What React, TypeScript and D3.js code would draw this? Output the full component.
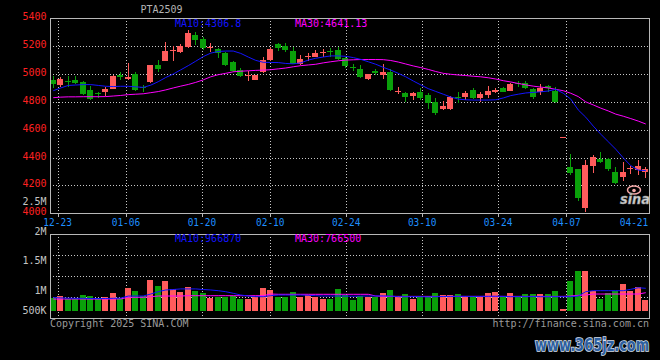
import React from "react";
import * as d3 from "d3";

// ---------------- data ----------------
const title = "PTA2509";
const dates = [
  "12-20","12-23","12-24","12-25","12-26","12-27","12-30","12-31",
  "01-02","01-03","01-06","01-07","01-08","01-09","01-10","01-13","01-14","01-15","01-16","01-17","01-20","01-21","01-22","01-23","01-24","01-27",
  "02-05","02-06","02-07","02-10","02-11","02-12","02-13","02-14","02-17","02-18","02-19","02-20","02-21","02-24","02-25","02-26","02-27","02-28",
  "03-03","03-04","03-05","03-06","03-07","03-10","03-11","03-12","03-13","03-14","03-17","03-18","03-19","03-20","03-21","03-24","03-25","03-26","03-27","03-28","03-31",
  "04-01","04-02","04-03","04-04","04-07","04-08","04-09","04-10","04-11","04-14","04-15","04-16","04-17","04-18","04-21",
];
// stray record that the date axis ignores
const gapDates = ["04-04"];

const opens = [4955,4924,4947,4955,4943,4888,4862,4871,4895,4996,4963,5003,4910,4943,5062,5094,5163,5160,5195,5278,
  5250,5188,5180,5150,5088,5030,4990,4960,5015,5100,5212,5203,5165,5072,5120,5125,5153,5162,5172,5112,
  5052,5036,4964,5022,4995,5018,4875,4866,4845,4873,4846,4802,4750,4750,4835,4833,4885,4830,4850,4874,
  4897,4880,4938,4938,4890,4874,4914,4880,4545,4335,4318,4036,4342,4390,4390,4300,4263,4316,4311,4293];
const highs = [4986,4979,4984,4984,4950,4912,4870,4905,4990,5015,5080,5012,4924,5068,5100,5230,5200,5218,5314,5300,
  5268,5220,5190,5155,5095,5040,5025,4995,5120,5195,5225,5224,5195,5135,5150,5175,5180,5184,5195,5125,
  5070,5065,5002,5035,5070,5035,4904,4873,4873,4897,4862,4825,4806,4840,4868,4878,4897,4868,4914,4902,
  4909,4938,4950,4950,4902,4926,4921,4909,4545,4426,4320,4383,4415,4442,4395,4335,4371,4340,4383,4335];
const lows = [4902,4907,4910,4931,4850,4815,4825,4845,4890,4955,4955,4878,4871,4935,5012,5090,5090,5150,5190,5208,
  5172,5160,5118,5060,5012,4975,4952,4955,5008,5090,5165,5160,5070,5068,5095,5120,5125,5125,5100,5040,
  5022,4970,4955,4995,4965,4878,4854,4802,4813,4813,4746,4705,4742,4745,4789,4813,4820,4802,4825,4862,
  4868,4878,4909,4892,4818,4850,4873,4795,4545,4275,4090,4012,4288,4358,4303,4210,4234,4280,4275,4256];
const closes = [4931,4962,4940,4938,4860,4818,4857,4893,4984,4978,4978,4885,4903,5063,5036,5162,5170,5198,5294,5245,
  5185,5192,5150,5065,5025,4985,4995,4992,5098,5178,5186,5172,5075,5110,5127,5153,5158,5156,5108,5060,
  5046,4978,5000,5010,5018,4885,4880,4833,4866,4826,4790,4718,4773,4837,4828,4866,4826,4854,4880,4888,
  4873,4928,4926,4897,4838,4902,4902,4797,4545,4288,4108,4347,4407,4366,4318,4220,4294,4325,4342,4315];
const ma10 = [4880,4900,4918,4921,4924,4924,4918,4912,4910,4912,4912,4908,4904,4920,4945,4975,5000,5030,5060,5092,
  5125,5150,5162,5165,5165,5148,5122,5098,5084,5083,5082,5076,5073,5080,5100,5113,5122,5130,5130,5127,
  5118,5105,5088,5070,5048,5028,5005,4980,4950,4922,4895,4875,4855,4835,4820,4815,4813,4813,4813,4815,
  4828,4845,4855,4864,4868,4872,4878,4890,4862,4820,4742,4690,4626,4568,4514,4460,4398,4342,4310,4306.8];
const ma30 = [4830,4834,4836,4836,4837,4837,4837,4838,4842,4846,4852,4855,4858,4866,4874,4886,4900,4913,4925,4940,
  4958,4980,4995,5005,5016,5020,5023,5026,5028,5031,5037,5043,5052,5060,5065,5070,5080,5088,5095,5100,
  5102,5104,5104,5104,5103,5097,5086,5072,5058,5046,5033,5018,5005,4998,4993,4989,4984,4980,4973,4964,
  4952,4943,4932,4922,4913,4906,4900,4890,4880,4862,4838,4800,4778,4755,4735,4712,4697,4680,4662,4641.13];
const volumes = [810000,867000,785000,785000,892000,875000,785000,835000,950000,810000,
  1050000,1000000,867000,1186000,1084000,1160000,1030000,975000,1067000,1000000,
  950000,825000,850000,850000,867000,785000,785000,850000,1050000,1012000,
  850000,850000,975000,835000,892000,850000,792000,799000,1030000,892000,
  767000,867000,842000,842000,950000,1012000,867000,917000,792000,850000,
  867000,950000,892000,892000,917000,867000,875000,875000,950000,975000,
  842000,950000,842000,917000,917000,917000,917000,1000000,542000,1160000,
  1330000,1330000,1000000,792000,950000,1000000,1110000,1000000,1067000,767000];
const volMa10 = [830000,820000,815000,810000,810000,805000,805000,805000,810000,815000,
  867000,867000,867000,917000,975000,1012000,1020000,1030000,1030000,1030000,
  1020000,1012000,1000000,975000,935000,892000,867000,850000,850000,875000,
  892000,892000,892000,892000,885000,875000,867000,867000,867000,865000,
  862000,866000,867000,869000,870000,867000,850000,848000,852000,850000,
  846000,850000,855000,858000,860000,858000,857000,858000,860000,862000,
  858000,850000,852000,850000,853000,850000,848000,850000,850000,850000,
  867000,975000,1000000,1000000,1000000,1000000,1000000,1023000,1050000,1040000];
const volMa30 = [790000,792000,792000,793000,792000,790000,792000,792000,793000,795000,
  835000,835000,835000,850000,867000,867000,867000,867000,875000,875000,
  875000,875000,875000,875000,875000,875000,875000,875000,875000,917000,
  910000,910000,910000,910000,910000,910000,910000,910000,910000,910000,
  910000,910000,910000,867000,858000,858000,858000,858000,858000,858000,
  858000,858000,858000,858000,858000,858000,858000,858000,858000,858000,
  858000,858000,858000,858000,858000,858000,858000,858000,858000,867000,
  885000,892000,917000,917000,917000,917000,917000,917000,917000,950000];
const volMa10Legend = 966870;
const volMa30Legend = 766500;

const priceTicks = [4000, 4200, 4400, 4600, 4800, 5000, 5200, 5400];
const volTicks = [500000, 1000000, 1500000, 2000000, 2500000];
const volTickLabels = ["500K", "1M", "1.5M", "2M", "2.5M"];
const dateTicks = ["12-23", "01-06", "01-20", "02-10", "02-24", "03-10", "03-24", "04-07", "04-21"];

// ---------------- layout ----------------
const W = 660, H = 360;
const L = 50, R = 650;
const mT = 18.3, mB = 213.3;
const vT = 234.3, vB = 318.3;

const UP = "#ff5c5c";
const DOWN = "#0aa00a";
const GRID = "#c8c8c8";
const FRAME = "#b8b8b8";
const MONO = "'DejaVu Sans Mono', 'Liberation Mono', monospace";

export default function App() {
  const xC = d3.scaleBand<string>().domain(dates).range([49.5, 649.5]).paddingInner(0.2).paddingOuter(0.1);
  const xG = d3.scaleBand<string>().domain(dates.filter((d) => !gapDates.includes(d))).range([L, R]);
  const y = d3.scaleLinear().domain([4000, 5400]).range([mB, mT]);
  const yv = d3.scaleLinear().domain([500000, 1000000, 2000000]).range([310.7, 290.7, 231]);
  const bw = xC.bandwidth();
  const cx = (d: string) => (xC(d) as number) + bw / 2;

  const priceLine = (arr: number[]) =>
    d3.line<number>().x((_, i) => cx(dates[i])).y((v) => y(v))(arr) || "";
  const volLine = (arr: number[]) =>
    d3.line<number>().x((_, i) => cx(dates[i])).y((v) => yv(v))(arr) || "";

  const gridX = dateTicks.slice(0, -1).map((d) => Math.round(xG(d) as number) + 0.5);
  const volGridY = [1, 2, 3].map((k) => Math.round(vT + ((vB - vT) * k) / 4) + 0.5);

  return (
    <div style={{ position: "absolute", left: 0, top: 0, width: W, height: H }}>
      <svg width={W} height={H} style={{ display: "block", background: "#000" }}>
        <rect x={0} y={0} width={W} height={H} fill="#000" />
        {/* title */}
        <text x={161.5} y={9.7} fill="#b4b4b4" fontFamily={MONO} fontSize={10} textAnchor="middle" dominantBaseline="central">{title}</text>

        {/* price grid */}
        <g stroke={GRID} strokeWidth={1} strokeDasharray="1 2" shapeRendering="crispEdges">
          {priceTicks.slice(1, -1).map((t) => (
            <line key={t} x1={L} x2={R} y1={Math.round(y(t)) + 0.5} y2={Math.round(y(t)) + 0.5} />
          ))}
          {gridX.map((x, i) => (
            <line key={i} x1={x} x2={x} y1={mT} y2={mB} />
          ))}
        </g>
        {/* volume grid */}
        <g stroke={GRID} strokeWidth={1} strokeDasharray="1 2" shapeRendering="crispEdges">
          {volGridY.map((yy, i) => (
            <line key={i} x1={L} x2={R} y1={yy} y2={yy} />
          ))}
          {gridX.map((x, i) => (
            <line key={i} x1={x} x2={x} y1={vT} y2={vB} />
          ))}
        </g>

        {/* candles */}
        <g shapeRendering="crispEdges">
          {dates.map((d, i) => {
            const up = closes[i] >= opens[i];
            const col = up ? UP : DOWN;
            const c = Math.floor(cx(d)) + 0.5;
            const top = y(Math.max(opens[i], closes[i]));
            const bot = y(Math.min(opens[i], closes[i]));
            return (
              <g key={d}>
                <line x1={c} x2={c} y1={y(highs[i])} y2={y(lows[i])} stroke={col} strokeWidth={1} />
                <rect x={c - 3.5} y={top} width={6} height={Math.max(1, bot - top)} fill={col} />
              </g>
            );
          })}
        </g>
        {/* price MAs */}
        <path d={priceLine(ma30)} fill="none" stroke="#ff00ff" strokeWidth={1} />
        <path d={priceLine(ma10)} fill="none" stroke="#1414ff" strokeWidth={1} />

        {/* volume bars */}
        <g shapeRendering="crispEdges">
          {dates.map((d, i) => {
            const up = closes[i] >= opens[i];
            const c = Math.floor(cx(d)) + 0.5;
            return (
              <rect key={d} x={c - 3.5} y={yv(volumes[i])} width={6}
                height={Math.max(1, yv(500000) - yv(volumes[i]))} fill={up ? UP : DOWN} />
            );
          })}
        </g>
        <path d={volLine(volMa30)} fill="none" stroke="#ff00ff" strokeWidth={1} />
        <path d={volLine(volMa10)} fill="none" stroke="#1414ff" strokeWidth={1} />

        {/* frames */}
        <g fill="none" stroke={FRAME} strokeWidth={1} shapeRendering="crispEdges">
          <rect x={L + 0.5} y={18.5} width={R - L - 1} height={mB - 18.5} />
          <rect x={L + 0.5} y={234.5} width={R - L - 1} height={vB - 234.5} />
          <line x1={L} x2={R} y1={213.5} y2={213.5} strokeWidth={1.5} />
          {gridX.map((x, i) => (
            <line key={i} x1={x} x2={x} y1={214} y2={217} />
          ))}
        </g>

        {/* price axis labels */}
        {priceTicks.map((t) => (
          <text key={t} x={46.5} y={y(t) - 1.5} fill="#ff2020" fontFamily={MONO} fontSize={10}
            textAnchor="end" dominantBaseline="central">{t}</text>
        ))}
        {/* volume axis labels */}
        {volTicks.map((t, i) => (
          <text key={t} x={46.5} y={yv(t)} fill="#c4c4c4" fontFamily={MONO} fontSize={10}
            textAnchor="end" dominantBaseline="central">{volTickLabels[i]}</text>
        ))}
        {/* date labels */}
        {dateTicks.map((d) => {
          const x = Math.min(xG(d) as number, R - 16);
          return (
            <text key={d} x={x} y={221.7} fill="#1e8fff" fontFamily={MONO} fontSize={10.5}
              textAnchor="middle" dominantBaseline="central" textLength={28.5} lengthAdjust="spacingAndGlyphs">{d}</text>
          );
        })}

        {/* legends */}
        <text x={175} y={23.3} fill="#1414ff" fontFamily={MONO} fontSize={10} dominantBaseline="central">
          {"MA10:" + ma10[ma10.length - 1].toFixed(1)}
        </text>
        <text x={295} y={23.3} fill="#ff00ff" fontFamily={MONO} fontSize={10} dominantBaseline="central">
          {"MA30:" + ma30[ma30.length - 1].toFixed(2)}
        </text>
        <text x={175} y={238.3} fill="#1414ff" fontFamily={MONO} fontSize={10} dominantBaseline="central">
          {"MA10:" + volMa10Legend}
        </text>
        <text x={295} y={238.3} fill="#ff00ff" fontFamily={MONO} fontSize={10} dominantBaseline="central">
          {"MA30:" + volMa30Legend}
        </text>

        {/* sina logo */}
        <g>
          <ellipse cx={634} cy={190} rx={6.5} ry={4} fill="none" stroke="#f4a8a8" strokeWidth={1.5} />
          <circle cx={634} cy={190.5} r={1.8} fill="#f4a8a8" />
          <text x={620} y={204} fill="#d0d0d0" stroke="#8a8a8a" strokeWidth={0.5} fontFamily="'DejaVu Sans', sans-serif"
            fontSize={14} fontStyle="italic" fontWeight="bold" textLength={30} lengthAdjust="spacingAndGlyphs">sina</text>
        </g>

        {/* footer */}
        <text x={50} y={323.5} fill="#9a9a9a" fontFamily={MONO} fontSize={10} dominantBaseline="central">Copyright 2025 SINA.COM</text>
        <text x={649} y={323.5} fill="#9a9a9a" fontFamily={MONO} fontSize={10} textAnchor="end" dominantBaseline="central">http://finance.sina.com.cn</text>

        {/* watermark */}
        <text transform="translate(535,351) scale(1,1.3)" x={0} y={0} fill="#2d5f9f" stroke="#d8e0ee" strokeWidth={1.3} paintOrder="stroke"
          fontFamily="'DejaVu Sans', sans-serif" fontWeight="bold" fontSize={13}>www.365jz.com</text>
      </svg>
    </div>
  );
}
